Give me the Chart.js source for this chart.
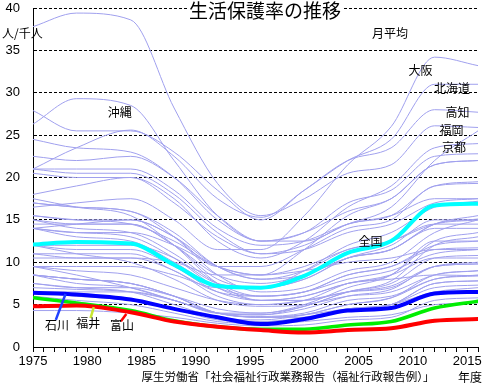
<!DOCTYPE html>
<html lang="ja">
<head>
<meta charset="utf-8">
<title>生活保護率の推移</title>
<script src="https://cdn.jsdelivr.net/npm/chart.js@4.4.1/dist/chart.umd.min.js"></script>
<style>
  html, body { margin: 0; padding: 0; background: #fff; }
  #wrap { width: 490px; height: 385px; }
</style>
</head>
<body>
<div id="wrap"><canvas id="myChart" width="490" height="385"></canvas></div>
<script>
// les années (points de passage)
const years = [1975, 1979, 1984, 1988, 1992, 1996, 2000, 2004, 2008, 2012, 2016];

// 全国 et les trois préfectures mises en avant (人/千人)
const zenkoku  = [12.1, 12.4, 12.2, 9.7, 7.2, 7.0, 8.4, 11.1, 12.5, 16.7, 16.9];
const ishikawa = [6.4, 6.2, 5.6, 4.5, 3.5, 2.7, 3.3, 4.3, 4.6, 6.3, 6.5];
const fukui    = [5.8, 5.2, 4.3, 3.1, 2.4, 2.1, 2.1, 2.6, 3.0, 4.6, 5.4];
const toyama   = [4.8, 4.9, 4.1, 3.0, 2.4, 2.0, 1.7, 2.0, 2.2, 3.1, 3.3];

// les autres préfectures (lignes claires)
const prefNames = ['北海道','青森','岩手','宮城','秋田','山形','福島','茨城','栃木','群馬','埼玉',
  '千葉','東京','神奈川','新潟','山梨','長野','岐阜','静岡','愛知','三重','滋賀','京都','大阪',
  '兵庫','奈良','和歌山','鳥取','島根','岡山','広島','山口','徳島','香川','愛媛','高知','福岡',
  '佐賀','長崎','熊本','大分','宮崎','鹿児島','沖縄'];
const prefRates = [
  [21.0, 23.5, 25.6, 22.5, 17.5, 15.3, 18.5, 22.0, 24.5, 31.0, 31.0],
  [22.5, 22.0, 22.5, 20.0, 15.5, 12.5, 13.5, 17.0, 18.5, 22.5, 22.8],
  [14.0, 13.5, 13.0, 10.5, 7.0, 5.5, 6.0, 7.5, 8.5, 10.5, 10.5],
  [10.5, 10.5, 10.5, 9.0, 6.0, 5.0, 5.5, 7.5, 8.5, 12.5, 12.5],
  [15.5, 15.0, 15.0, 13.0, 9.5, 8.0, 9.0, 11.5, 12.5, 14.5, 15.0],
  [8.5, 7.5, 7.0, 5.5, 4.0, 3.5, 3.5, 4.5, 5.0, 6.5, 7.0],
  [12.0, 11.5, 11.5, 9.5, 6.5, 5.5, 6.0, 7.5, 8.0, 8.5, 8.4],
  [7.5, 7.0, 6.5, 5.0, 3.5, 3.2, 3.8, 5.0, 5.8, 8.5, 9.0],
  [8.5, 8.0, 7.5, 6.0, 4.0, 3.8, 4.5, 6.0, 6.8, 9.5, 9.8],
  [6.5, 6.0, 5.5, 4.5, 3.2, 3.0, 3.5, 4.5, 5.0, 7.0, 7.3],
  [7.0, 6.8, 6.5, 5.5, 4.0, 3.8, 4.8, 6.5, 7.8, 12.0, 13.0],
  [6.5, 6.5, 6.5, 5.5, 4.0, 4.0, 5.0, 7.0, 8.5, 12.5, 13.5],
  [11.0, 10.5, 10.5, 10.0, 8.5, 8.5, 11.5, 15.5, 17.5, 21.5, 22.0],
  [9.5, 9.5, 9.5, 8.5, 7.0, 7.0, 9.0, 12.0, 13.5, 16.5, 17.2],
  [8.5, 8.0, 7.5, 6.0, 4.0, 3.5, 3.8, 5.0, 5.8, 8.0, 8.5],
  [9.5, 8.5, 7.0, 5.5, 4.0, 3.5, 3.8, 4.5, 5.0, 7.5, 7.8],
  [6.0, 5.5, 5.0, 4.0, 3.0, 2.8, 3.0, 3.5, 3.8, 5.0, 5.2],
  [4.3, 4.3, 4.0, 3.5, 2.8, 2.5, 2.6, 3.2, 3.5, 5.5, 5.8],
  [6.5, 6.0, 5.5, 4.5, 3.5, 3.0, 3.3, 4.3, 5.0, 7.5, 7.8],
  [7.5, 7.0, 7.0, 6.0, 4.5, 4.0, 4.8, 6.5, 7.5, 10.5, 10.8],
  [9.5, 9.0, 8.5, 7.0, 5.5, 5.0, 5.5, 6.5, 7.2, 9.5, 9.8],
  [8.5, 8.0, 7.5, 6.0, 4.0, 3.6, 4.0, 5.5, 6.0, 8.0, 8.4],
  [18.0, 19.0, 20.0, 17.5, 12.5, 10.5, 12.5, 16.5, 19.0, 23.5, 24.0],
  [16.5, 17.0, 17.5, 15.0, 11.5, 11.5, 15.5, 21.5, 26.0, 34.2, 33.2],
  [14.0, 14.5, 15.0, 13.0, 9.5, 9.5, 11.5, 14.0, 15.0, 19.0, 19.3],
  [14.5, 14.5, 14.5, 12.0, 8.0, 7.0, 8.0, 10.5, 11.5, 14.5, 15.1],
  [14.0, 13.5, 13.5, 12.0, 9.5, 8.5, 9.5, 11.5, 12.5, 14.5, 14.5],
  [15.0, 14.0, 13.5, 11.0, 7.5, 6.0, 6.5, 8.5, 9.5, 12.0, 12.5],
  [12.0, 11.0, 10.0, 8.0, 5.5, 4.8, 5.0, 6.0, 6.5, 8.5, 9.0],
  [11.0, 11.0, 11.0, 9.0, 6.5, 6.0, 6.5, 8.5, 9.5, 11.5, 11.7],
  [12.0, 12.0, 12.0, 10.5, 7.5, 7.0, 8.0, 10.5, 12.0, 15.0, 15.0],
  [15.5, 15.0, 14.5, 12.5, 9.5, 8.5, 9.0, 10.0, 10.5, 11.5, 11.5],
  [21.0, 21.0, 21.0, 18.5, 14.0, 12.0, 12.5, 14.5, 15.5, 17.5, 17.5],
  [14.0, 13.0, 12.5, 10.0, 7.0, 6.0, 6.5, 8.0, 9.0, 11.0, 11.5],
  [15.0, 14.5, 14.5, 12.0, 8.5, 7.5, 8.5, 10.5, 11.5, 14.0, 14.0],
  [27.9, 25.5, 25.5, 23.0, 18.5, 15.0, 18.5, 22.0, 23.5, 28.0, 27.7],
  [37.8, 39.4, 38.6, 28.2, 19.3, 15.5, 17.5, 20.5, 21.5, 26.1, 25.9],
  [17.5, 16.5, 15.5, 12.0, 7.5, 5.5, 5.5, 6.5, 7.0, 9.5, 10.0],
  [24.5, 23.5, 23.0, 20.0, 15.0, 12.5, 13.5, 16.0, 17.5, 21.5, 22.0],
  [17.0, 16.5, 16.0, 13.0, 8.5, 6.5, 7.0, 9.0, 10.0, 13.5, 15.0],
  [20.5, 20.0, 20.0, 17.0, 13.0, 11.0, 11.5, 13.5, 14.5, 17.0, 17.5],
  [17.0, 16.5, 16.0, 13.5, 9.5, 8.0, 8.5, 10.5, 11.5, 14.5, 15.5],
  [21.0, 20.5, 20.5, 18.0, 13.5, 11.0, 12.0, 14.5, 15.5, 19.0, 19.5],
  [26.3, 29.3, 28.5, 22.0, 15.5, 12.5, 12.5, 14.5, 16.5, 22.0, 25.5]
];

// étiquettes sur le graphique (année, valeur)
const tagNames  = ['大阪', '北海道', '高知', '福岡', '京都', '沖縄', '全国', '石川', '福井', '富山'];
const tagYears  = [2010.7, 2013.6, 2014.1, 2013.55, 2013.8, 1983.0, 2006.1, 1977.2, 1980.1, 1983.2];
const tagValues = [32.6, 30.5, 27.7, 25.5, 23.5, 27.7, 12.45, 2.5, 2.8, 2.6];

const titleText = '生活保護率の推移';
const sourceText = '厚生労働省「社会福祉行政業務報告（福祉行政報告例）」';

const jp = '"Noto Sans CJK JP", "Noto Sans", sans-serif';
const num = '"Liberation Sans", Arial, sans-serif';

function pts(arr) {
    return years.map((yr, i) => ({ x: yr, y: arr[i] }));
}

const datasets = [];
datasets.push({ data: pts(ishikawa), borderColor: '#0000ff', borderWidth: 4, order: 0 });
datasets.push({ data: pts(toyama), borderColor: '#ff0000', borderWidth: 4, order: 1 });
datasets.push({ data: pts(fukui), borderColor: '#00ee00', borderWidth: 3.5, order: 2 });
datasets.push({ data: pts(zenkoku), borderColor: '#00ffff', borderWidth: 4, order: 3 });
prefRates.forEach((r, i) => {
    datasets.push({ label: prefNames[i], data: pts(r), borderColor: '#a0a0ee', borderWidth: 1, order: 10 });
});

const texts = {
    id: 'texts',
    afterDraw(chart) {
        const { ctx, scales: { x, y } } = chart;
        ctx.save();
        // titre sur la ligne des 40
        ctx.fillStyle = '#fff';
        ctx.fillRect(187, 0, 156, 21);
        ctx.fillStyle = '#000';
        ctx.textAlign = 'center';
        ctx.textBaseline = 'middle';
        ctx.font = '19px ' + jp;
        ctx.fillText(titleText, 265, 11);

        ctx.font = '12px ' + jp;
        ctx.textAlign = 'left';
        ctx.fillText('人/千人', 2, 33);
        ctx.textAlign = 'center';
        ctx.fillText('月平均', 390, 33);
        ctx.fillText('年度', 470, 377);
        ctx.font = '11.5px ' + jp;
        ctx.fillText(sourceText, 288, 377);

        // traits de rappel
        const leaders = [
            [1977.1, 3.2, 1978.0, 6.25, '#2040ff'],
            [1980.3, 3.4, 1980.6, 4.7, '#c8e632'],
            [1983.1, 3.05, 1983.6, 3.9, '#ff0000']
        ];
        leaders.forEach(l => {
            ctx.strokeStyle = l[4];
            ctx.lineWidth = 2.5;
            ctx.beginPath();
            ctx.moveTo(x.getPixelForValue(l[0]), y.getPixelForValue(l[1]));
            ctx.lineTo(x.getPixelForValue(l[2]), y.getPixelForValue(l[3]));
            ctx.stroke();
        });

        ctx.font = '12px ' + jp;
        ctx.fillStyle = '#000';
        tagNames.forEach((t, i) => {
            ctx.fillText(t, x.getPixelForValue(tagYears[i]), y.getPixelForValue(tagValues[i]));
        });
        ctx.restore();
    }
};

const chart = new Chart(document.getElementById('myChart'), {
    type: 'line',
    data: { datasets: datasets },
    options: {
        responsive: false,
        animation: false,
        devicePixelRatio: 1,
        layout: { padding: { top: 8, right: 12, left: 0, bottom: 0 } },
        elements: {
            point: { radius: 0 },
            line: { cubicInterpolationMode: 'monotone', borderCapStyle: 'round', borderJoinStyle: 'round' }
        },
        plugins: { legend: { display: false }, tooltip: { enabled: false } },
        scales: {
            x: {
                type: 'linear',
                min: 1975,
                max: 2016,
                afterFit: s => { s.height = 38; s.paddingLeft = 0; s.paddingRight = 0; },
                grid: { drawOnChartArea: false, drawTicks: true, tickLength: 5, color: '#000' },
                border: { color: '#000', width: 1 },
                ticks: {
                    stepSize: 1,
                    autoSkip: false,
                    maxRotation: 0,
                    padding: 2,
                    color: '#000',
                    font: { size: 13, family: num },
                    callback: v => (v % 5 === 0 ? String(v) : '')
                }
            },
            y: {
                min: 0,
                max: 40,
                afterFit: s => { s.width = 33; s.paddingTop = 0; s.paddingBottom = 0; },
                grid: {
                    drawTicks: false,
                    color: c => (c.tick.value === 0 ? 'rgba(0,0,0,0)' : '#000')
                },
                border: { color: '#000', width: 1, dash: [3, 2] },
                ticks: {
                    stepSize: 5,
                    padding: 13,
                    color: '#000',
                    font: { size: 13, family: num }
                }
            }
        }
    },
    plugins: [texts]
});
</script>
</body>
</html>
